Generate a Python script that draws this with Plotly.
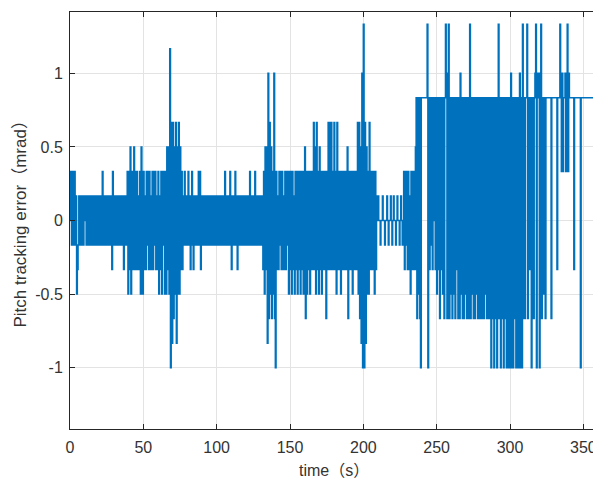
import plotly.graph_objects as go

# quantisation step of the error signal (mrad)
STEP = 1.0 / 6.0
DT = 0.5  # sampling interval of the list below (s)

# error samples in units of STEP, every 0.5 s, grouped by 20 s segments
seg_000 = [0, 2, -1, 2, 1, -1, 2, -1, 1, -3,
           -2, -1, 1, -1, 1, 0, -1, 1, -1, 1,
           0, 1, -1, 1, -1, 0, 1, -1, 1, -1,
           1, 1, -1, 1, -1, 0, 1, -1, 1, -1]
seg_020 = [1, -1, 1, -1, 2, -1, 1, -1, 0, 1,
           -1, 1, -1, 1, -1, 1, 0, -2, 2, -1,
           1, -1, 1, -1, 1, -1, 1, -1, 1, -1,
           1, -1, 1, -2, 1, -1, 1, -1, 2, -3]
seg_040 = [2, -2, 3, -3, 2, -2, 2, 3, -2, 2,
           -2, 2, -2, 1, -2, 2, -3, 3, 2, -3,
           2, -2, 1, -2, 2, -1, 2, -2, 2, -2,
           1, -2, 2, -2, 2, -1, 2, -2, 1, -2]
seg_060 = [2, -3, 1, -2, 2, -3, 2, -1, 2, -3,
           2, -3, 3, -2, 3, -3, 7, -6, 4, -5,
           4, -4, 3, -3, 4, -5, 3, -3, 4, -3,
           3, -2, 2, -2, 1, -1, 2, -1, 1, -1]
seg_080 = [1, 2, -1, 1, -2, 1, 2, -1, -2, 1,
           -1, 1, -1, 1, -1, 2, -1, 2, -2, 1,
           -1, 1, -1, 1, -1, 1, 0, -1, 1, -1,
           1, -1, 0, 1, -1, 1, -1, 1, -1, 1]
seg_100 = [-1, 1, -1, 1, -1, 1, -1, 1, 0, -1,
           1, 2, -1, 1, -1, 1, -1, 1, 2, -1,
           -2, 1, -1, 1, -1, 2, -1, 1, -2, 1,
           -1, 1, -1, 1, 0, -1, 1, -1, 1, -1]
seg_120 = [1, -1, 1, -1, 1, 2, -1, 1, -1, 1,
           -1, 1, 2, -1, 1, -1, 1, -1, 1, -1,
           1, -1, 1, -2, 2, -3, 3, -2, 3, -5,
           6, -4, 4, -3, 3, -4, 2, -3, 6, -4]
seg_140 = [-6, 2, -2, 1, -2, 2, -1, 2, -2, 2,
           -2, 1, -2, 2, -2, 2, -1, 2, -3, 2,
           -2, 2, -3, 2, -2, 1, -3, 2, -2, 2,
           -3, 2, -2, 2, -3, 2, -2, 2, -3, 2]
seg_160 = [3, -4, 2, -3, 2, -2, 2, -3, 2, -2,
           2, -2, 4, -2, 3, -3, 4, -2, 2, -3,
           3, -2, 2, -3, 2, -2, 2, -2, 2, -4,
           2, -2, 4, -2, 4, -2, 4, -2, 2, -2]
seg_180 = [4, -2, 2, -3, 4, -2, 2, -2, 2, -3,
           2, -2, 2, -2, 2, -2, 2, -2, 3, -4,
           2, -2, 2, -2, 2, -3, 2, -2, 2, -2,
           2, -2, 4, -3, 4, -4, 3, -5, 6, -6]
seg_200 = [8, -6, 4, -5, 3, -3, 2, -3, 4, -2,
           2, -2, 2, -2, 2, -3, 2, -2, 1, 0,
           1, 0, 0, -1, 0, 0, 1, 0, 0, -1,
           0, 0, 1, 0, -1, 0, 0, 1, 0, -1]
seg_220 = [0, 1, 0, 0, -1, 0, 1, 0, 0, -1,
           0, 1, 0, -1, 0, 2, -2, 2, -1, 2,
           -2, 2, -2, 1, -3, 2, -2, 2, -2, 2,
           -2, 3, 5, -4, 5, -3, 5, -4, -6, 5]
seg_240 = [5, 5, 5, 5, 5, 5, 5, 8, -6, 5,
           -2, 5, -1, 5, -2, 5, 0, 5, -2, 5,
           -3, 5, -2, 5, -4, 5, -2, 5, -3, 5,
           -4, 5, 8, 5, -4, 6, 8, -4, 5, -3]
seg_260 = [5, -4, 5, -3, 5, -4, 5, -2, 5, -4,
           5, -4, 6, -3, 5, -4, 5, -4, 5, -3,
           5, -4, 5, -4, 5, 8, -4, 5, -3, 5,
           -4, 5, -4, 5, -3, 5, -4, 5, -4, 5]
seg_280 = [-4, 5, -4, 5, -4, 5, -3, 5, -4, 5,
           -4, 5, -4, 5, -6, 5, -4, 5, -6, 5,
           -4, 5, -6, 5, 8, -4, 5, -6, 5, -4,
           5, -6, 5, -4, 5, -6, 5, -6, 5, -6]
seg_300 = [5, 6, -6, 5, -6, 5, -4, 5, -6, 5,
           -6, 5, -6, 6, -6, 5, -6, 8, -4, 5,
           -4, 5, 5, 8, -4, 5, -2, 5, 5, -6,
           5, 5, -4, 5, 6, 8, -6, 5, 6, 5]
seg_320 = [-6, 6, 8, -4, 5, -3, 5, 5, -4, 5,
           5, 5, 5, 5, 5, 5, -4, 5, 5, 5,
           5, 5, 5, 5, -2, 5, 5, 5, 8, 5,
           2, 6, 2, 5, 5, 6, 2, 6, 8, 2]
seg_340 = [6, 5, 5, 5, 5, 5, 5, -2, 5, 5,
           5, 5, 5, 5, 5, 5, -6, 5, 5, 5,
           5, 5, 5, 5, 5, 5, 5, 5, 5, 5,
           5, 5, 5, 5, 5, 5, 5, 5, 5, 5,
           5]

segments = [seg_000, seg_020, seg_040, seg_060, seg_080, seg_100, seg_120,
            seg_140, seg_160, seg_180, seg_200, seg_220, seg_240, seg_260,
            seg_280, seg_300, seg_320, seg_340]
seg_starts = [0, 20, 40, 60, 80, 100, 120, 140, 160, 180, 200, 220, 240,
              260, 280, 300, 320, 340]

x_ticks = [0, 50, 100, 150, 200, 250, 300, 350]
y_ticks = [-1, -0.5, 0, 0.5, 1]
y_tick_labels = ["-1", "-0.5", "0", "0.5", "1"]
x_title = "time（s）"
y_title = "Pitch tracking error（mrad）"

t = []
e = []
for start, seg in zip(seg_starts, segments):
    for i, c in enumerate(seg):
        t.append(start + i * DT)
        e.append(c * STEP)

FONT = "Liberation Sans, Arial, Noto Sans CJK SC, sans-serif"
AX = "#262626"
TXT = "#333333"

fig = go.Figure()
fig.add_trace(go.Scatter(x=t, y=e, mode="lines",
                         line=dict(color="#0072BD", width=1.5, shape="hv",
                                   simplify=False),
                         showlegend=False, hoverinfo="skip"))

axis_common = dict(
    showline=True, linecolor=AX, linewidth=1, mirror="ticks",
    ticks="inside", ticklen=5, tickcolor=AX, tickwidth=1,
    showgrid=True, gridcolor="#E3E3E3", gridwidth=1,
    zeroline=False, automargin=False,
    tickfont=dict(family=FONT, size=16, color=TXT),
)

fig.update_xaxes(range=[0, 360], tickmode="array", tickvals=x_ticks,
                 ticklabelstandoff=4, **axis_common)
fig.update_yaxes(range=[-1.4167, 1.4167], tickmode="array", tickvals=y_ticks,
                 ticktext=y_tick_labels, ticklabelstandoff=3, **axis_common)

fig.add_annotation(text=x_title, xref="paper", yref="paper", x=0.5, y=0,
                   xanchor="center", yanchor="top", yshift=-31,
                   showarrow=False, font=dict(family=FONT, size=16, color=TXT))
fig.add_annotation(text=y_title, xref="paper", yref="paper", x=0, y=0.5,
                   xanchor="center", yanchor="middle", xshift=-50,
                   textangle=-90, showarrow=False,
                   font=dict(family=FONT, size=17, color=TXT))

# the page body adds an 8 px offset, so the figure is sized to fit the window
fig.update_layout(
    width=593, height=470,
    margin=dict(l=62, r=3, t=4, b=49),
    plot_bgcolor="white", paper_bgcolor="white",
)

fig.write_html("out.html")
